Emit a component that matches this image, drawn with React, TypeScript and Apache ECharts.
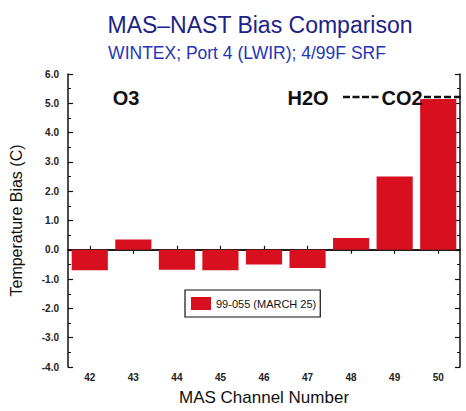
import React, { useEffect, useRef } from "react";
import * as echarts from "echarts";

const channels = ["42", "43", "44", "45", "46", "47", "48", "49", "50"];
const biasValues = [-0.7, 0.35, -0.68, -0.7, -0.5, -0.62, 0.4, 2.5, 5.15];
const seriesName = "99-055 (MARCH 25)";
const titleText = "MAS\u2013NAST Bias Comparison";
const subtitleText = "WINTEX; Port 4 (LWIR); 4/99F SRF";
const yMin = -4;
const yMax = 6;
const yInterval = 1;

const FONT = "'Liberation Sans', Arial, Helvetica, sans-serif";

export default function App() {
  const ref = useRef<HTMLDivElement>(null);

  useEffect(() => {
    document.body.style.margin = "0";
    if (!ref.current) return;
    const chart = echarts.init(ref.current, undefined, { renderer: "svg" });

    const axisLine = { show: true, lineStyle: { color: "#111", width: 1.5 } };

    const option: any = {
      animation: false,
      backgroundColor: "#ffffff",
      textStyle: { fontFamily: FONT },
      grid: { left: 59, right: 6, top: 74, bottom: 38, containLabel: false },
      legend: {
        show: true,
        data: [seriesName],
        left: 185,
        top: 290,
        orient: "horizontal",
        icon: "rect",
        itemWidth: 20,
        itemHeight: 13,
        padding: [7, 4, 7, 6],
        borderColor: "#111",
        borderWidth: 1.2,
        backgroundColor: "#fff",
        textStyle: { fontFamily: FONT, fontSize: 11, color: "#111" },
      },
      xAxis: [
        {
          type: "category",
          data: channels,
          position: "bottom",
          boundaryGap: true,
          axisLine,
          axisTick: { show: true, inside: true, length: 4, alignWithLabel: true, lineStyle: { color: "#111", width: 1.2 } },
          axisLabel: { color: "#222", fontSize: 10, fontWeight: "bold", fontFamily: FONT, margin: 5 },
          splitLine: { show: false },
          name: "MAS Channel Number",
          nameLocation: "middle",
          nameGap: 22,
          nameTextStyle: { fontFamily: FONT, fontSize: 17, color: "#111" },
        },
        {
          type: "category",
          data: channels,
          position: "top",
          boundaryGap: true,
          axisLine,
          axisTick: { show: true, inside: true, length: 4, alignWithLabel: true, lineStyle: { color: "#111", width: 1.2 } },
          axisLabel: { show: false },
          splitLine: { show: false },
        },
      ],
      yAxis: [
        {
          type: "value",
          min: yMin,
          max: yMax,
          interval: yInterval,
          position: "left",
          axisLine,
          axisTick: { show: true, inside: true, length: 5, lineStyle: { color: "#111", width: 1.2 } },
          minorTick: { show: true, splitNumber: 2, length: 3, lineStyle: { color: "#111", width: 1 } },
          axisLabel: {
            color: "#222",
            fontSize: 10,
            fontWeight: "bold",
            fontFamily: FONT,
            margin: 9,
            formatter: (v: number) => v.toFixed(1),
          },
          splitLine: { show: false },
          name: "Temperature Bias (C)",
          nameLocation: "middle",
          nameGap: 44,
          nameTextStyle: { fontFamily: FONT, fontSize: 16, color: "#111" },
        },
        {
          type: "value",
          min: yMin,
          max: yMax,
          interval: yInterval,
          position: "right",
          axisLine,
          axisTick: { show: true, inside: true, length: 5, lineStyle: { color: "#111", width: 1.2 } },
          minorTick: { show: true, splitNumber: 2, length: 3, lineStyle: { color: "#111", width: 1 } },
          axisLabel: { show: false },
          splitLine: { show: false },
        },
      ],
      series: [
        {
          name: seriesName,
          type: "bar",
          data: biasValues,
          xAxisIndex: 0,
          yAxisIndex: 0,
          barCategoryGap: "17%",
          itemStyle: { color: "#d70f1e" },
        },
      ],
      graphic: [
        {
          type: "text",
          x: 260,
          y: 25,
          style: {
            text: titleText,
            fill: "#1c2288",
            font: `23px ${FONT}`,
            align: "center",
            verticalAlign: "middle",
          },
        },
        {
          type: "text",
          x: 247,
          y: 53,
          style: {
            text: subtitleText,
            fill: "#2535b8",
            font: `17.5px ${FONT}`,
            align: "center",
            verticalAlign: "middle",
          },
        },
        {
          type: "text",
          x: 126,
          y: 98,
          z: 10,
          style: { text: "O3", fill: "#111", font: `bold 20px ${FONT}`, align: "center", verticalAlign: "middle" },
        },
        {
          type: "text",
          x: 308,
          y: 98,
          z: 10,
          style: { text: "H2O", fill: "#111", font: `bold 20px ${FONT}`, align: "center", verticalAlign: "middle" },
        },
        {
          type: "text",
          x: 402,
          y: 98,
          z: 10,
          style: { text: "CO2", fill: "#111", font: `bold 20px ${FONT}`, align: "center", verticalAlign: "middle" },
        },
        {
          type: "line",
          z: 10,
          shape: { x1: 343, y1: 97, x2: 381, y2: 97 },
          style: { stroke: "#111", lineWidth: 2.5, lineDash: [7, 2.5] },
        },
        {
          type: "line",
          z: 10,
          shape: { x1: 424, y1: 97, x2: 463, y2: 97 },
          style: { stroke: "#111", lineWidth: 2.5, lineDash: [7, 3] },
        },
      ],
    };

    chart.setOption(option);
    return () => chart.dispose();
  }, []);

  return <div ref={ref} style={{ width: 466, height: 411, background: "#fff" }} />;
}
